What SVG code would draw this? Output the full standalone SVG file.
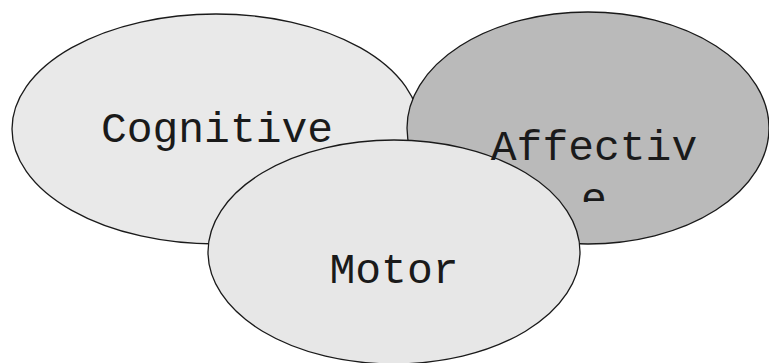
<svg xmlns="http://www.w3.org/2000/svg" width="769" height="363" viewBox="0 0 769 363">
<style>
.n{stroke:#1a1a1a;stroke-width:1.3}
.t{font-family:"Liberation Mono","Courier New",monospace;font-size:43px;fill:#1a1a1a;text-anchor:middle}
</style>
<defs>
<clipPath id="clipE"><rect x="560" y="180" width="70" height="22"/></clipPath>
</defs>
<rect width="769" height="363" fill="#ffffff"/>
<g id="cognitive">
<ellipse class="n" cx="216" cy="129" rx="204" ry="115" fill="#e9e9e9"/>
<text class="t" x="217" y="142">Cognitive</text>
</g>
<g id="affective">
<ellipse class="n" cx="588" cy="128" rx="181" ry="116" fill="#bababa"/>
</g>
<g id="motor">
<ellipse class="n" cx="394" cy="252" rx="186" ry="112" fill="#e7e7e7"/>
<text class="t" x="394" y="283">Motor</text>
</g>
<g id="affective-label">
<text class="t" x="594" y="160">Affectiv</text>
<text class="t" x="594" y="212" clip-path="url(#clipE)">e</text>
</g>
<g id="connectors"></g>
</svg>
